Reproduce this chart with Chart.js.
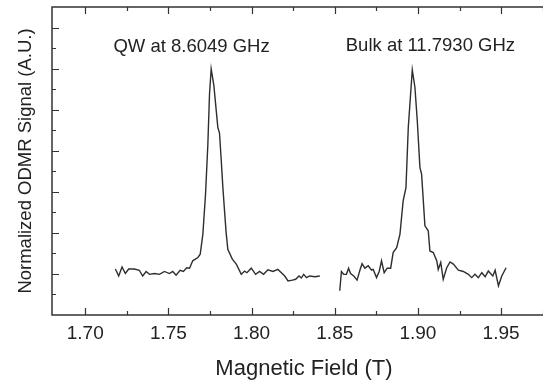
<!DOCTYPE html>
<html>
<head>
<meta charset="utf-8">
<script src="https://cdn.jsdelivr.net/npm/chart.js@4/dist/chart.umd.min.js"></script>
<style>
  html, body { margin: 0; padding: 0; background: #fff; overflow: hidden; }
  canvas { display: block; }
</style>
</head>
<body>
<canvas id="odmrChart" width="556" height="386"></canvas>
<script>
// QW resonance (8.6049 GHz)
const qwField = [1.7181, 1.7201, 1.7221, 1.7241, 1.7261, 1.7295, 1.7325, 1.7345, 1.7366, 1.7386,
  1.7416, 1.7446, 1.7476, 1.7506, 1.7526, 1.7546, 1.7570, 1.7590, 1.7610, 1.7627,
  1.7646, 1.7677, 1.7691, 1.7707, 1.7723, 1.7737, 1.7747, 1.7757, 1.7773, 1.7797,
  1.7807, 1.7817, 1.7827, 1.7837, 1.7847, 1.7857, 1.7884, 1.7908, 1.7938, 1.7958,
  1.7972, 1.7998, 1.8024, 1.8048, 1.8072, 1.8098, 1.8128, 1.8158, 1.8179, 1.8199,
  1.8219, 1.8245, 1.8265, 1.8285, 1.8299, 1.8313, 1.8330, 1.8349, 1.8380, 1.8410];
const qwSignal = [0.12, -0.05, 0.17, 0.01, 0.12, 0.12, 0.09, -0.05, 0.06, -0.01,
  0.01, -0.01, 0.06, 0.01, 0.06, -0.03, 0.09, 0.06, 0.15, 0.14,
  0.32, 0.40, 0.48, 0.97, 1.94, 3.16, 4.38, 4.99, 4.59, 3.57,
  3.43, 2.80, 2.12, 1.55, 1.00, 0.60, 0.36, 0.24, -0.01, 0.07,
  0.03, 0.14, -0.01, 0.06, -0.01, 0.10, 0.06, 0.11, 0.03, -0.05,
  -0.17, -0.15, -0.13, -0.05, -0.10, -0.01, -0.09, -0.05, -0.07, -0.05];

// Bulk resonance (11.7930 GHz)
const bulkField = [1.8530, 1.8540, 1.8554, 1.8570, 1.8583, 1.8595, 1.8614, 1.8634, 1.8651, 1.8664,
  1.8681, 1.8701, 1.8721, 1.8731, 1.8751, 1.8767, 1.8781, 1.8797, 1.8815, 1.8836,
  1.8851, 1.8872, 1.8892, 1.8911, 1.8928, 1.8942, 1.8956, 1.8966, 1.8982, 1.8996,
  1.9012, 1.9022, 1.9042, 1.9062, 1.9072, 1.9092, 1.9113, 1.9122, 1.9137, 1.9152,
  1.9173, 1.9193, 1.9213, 1.9243, 1.9273, 1.9303, 1.9323, 1.9343, 1.9363, 1.9384,
  1.9404, 1.9423, 1.9450, 1.9464, 1.9484, 1.9504, 1.9530];
const bulkSignal = [-0.41, 0.06, -0.01, -0.01, 0.14, 0.01, -0.05, -0.15, 0.09, 0.25,
  0.14, 0.20, 0.09, 0.11, -0.09, 0.06, 0.32, 0.03, 0.14, 0.14,
  0.52, 0.64, 0.97, 1.78, 2.10, 3.57, 4.38, 4.97, 4.54, 3.73,
  2.59, 2.43, 1.17, 1.05, 0.56, 0.52, 0.32, 0.11, 0.28, -0.13,
  0.15, 0.29, 0.24, 0.09, 0.06, -0.01, -0.09, -0.01, -0.09, 0.03,
  -0.07, 0.07, -0.05, 0.09, -0.29, -0.05, 0.15];

const xTickLabels = ['1.70', '1.75', '1.80', '1.85', '1.90', '1.95'];
const yTickValues = [0, 1, 2, 3, 4, 5, 6];
const peakLabels = ['QW at 8.6049 GHz', 'Bulk at 11.7930 GHz'];

const FONT = "'Liberation Sans', Arial, sans-serif";
const INK = '#222';
const LINE = '#2e2e2e';

const toPoints = (xs, ys) => xs.map((x, i) => ({ x: x, y: ys[i] }));

// frame + inward tick marks (major and minor)
const frameTicks = {
  id: 'frameTicks',
  afterDatasetsDraw(chart) {
    const { ctx, chartArea: a, scales: { x, y } } = chart;
    ctx.save();
    ctx.strokeStyle = '#333';
    ctx.lineWidth = 1.5;
    ctx.beginPath();
    ctx.moveTo(a.right, a.top);
    ctx.lineTo(a.left, a.top);
    ctx.lineTo(a.left, a.bottom);
    ctx.lineTo(a.right, a.bottom);
    ctx.stroke();

    ctx.lineWidth = 1.2;
    ctx.beginPath();
    const xStep = 0.05;
    x.ticks.forEach(t => {
      [[t.value, 7], [t.value + xStep / 2, 4], [t.value - xStep / 2, 4]].forEach(([v, len]) => {
        const px = Math.round(x.getPixelForValue(v)) + 0.5;
        if (px <= a.left + 1 || px >= a.right) return;
        ctx.moveTo(px, a.bottom); ctx.lineTo(px, a.bottom - len);
        ctx.moveTo(px, a.top); ctx.lineTo(px, a.top + len);
      });
    });
    y.ticks.forEach(t => {
      [[t.value, 7], [t.value + 0.5, 4], [t.value - 0.5, 4]].forEach(([v, len]) => {
        const py = Math.round(y.getPixelForValue(v)) + 0.5;
        if (py <= a.top + 1 || py >= a.bottom - 1) return;
        ctx.moveTo(a.left, py); ctx.lineTo(a.left + len, py);
      });
    });
    ctx.stroke();
    ctx.restore();
  }
};

// peak captions
const captions = {
  id: 'captions',
  afterDraw(chart, args, opts) {
    const { ctx, scales: { x, y } } = chart;
    ctx.save();
    ctx.fillStyle = INK;
    ctx.font = opts.font;
    ctx.textAlign = 'center';
    ctx.textBaseline = 'middle';
    opts.spots.forEach((s, i) => {
      ctx.fillText(peakLabels[i], x.getPixelForValue(s[0]), y.getPixelForValue(s[1]));
    });
    ctx.restore();
  }
};

new Chart('odmrChart', {
  type: 'line',
  data: {
    datasets: [
      { label: 'QW', data: toPoints(qwField, qwSignal) },
      { label: 'Bulk', data: toPoints(bulkField, bulkSignal) }
    ]
  },
  options: {
    responsive: false,
    animation: false,
    devicePixelRatio: 1,
    layout: { padding: { top: 7, left: 0, right: 0, bottom: 0 } },
    elements: {
      line: { borderColor: LINE, borderWidth: 1.4, tension: 0, fill: false },
      point: { radius: 0 }
    },
    plugins: {
      legend: { display: false },
      tooltip: { enabled: false },
      captions: {
        font: '18.5px ' + FONT,
        spots: [[1.7639, 5.52], [1.9075, 5.55]]
      }
    },
    scales: {
      x: {
        type: 'linear',
        min: 1.68,
        max: 1.983,
        afterBuildTicks: s => { s.ticks = xTickLabels.map(l => ({ value: parseFloat(l) })); },
        afterFit: s => { s.height = 71; },
        grid: { display: false, drawTicks: false },
        border: { display: false },
        ticks: {
          padding: 7,
          color: INK,
          font: { family: FONT, size: 19 },
          callback: v => v.toFixed(2)
        },
        title: {
          display: true,
          text: 'Magnetic Field (T)',
          color: INK,
          font: { family: FONT, size: 22 },
          padding: { top: 0, bottom: 4 }
        }
      },
      y: {
        type: 'linear',
        min: -1,
        max: 6.5,
        afterBuildTicks: s => { s.ticks = yTickValues.map(v => ({ value: v })); },
        afterFit: s => { s.width = 52; },
        grid: { display: false, drawTicks: false },
        border: { display: false },
        ticks: { display: false },
        title: {
          display: true,
          text: 'Normalized ODMR Signal (A.U.)',
          color: INK,
          font: { family: FONT, size: 18.5 },
          padding: { top: 14.5, bottom: 0 }
        }
      }
    }
  },
  plugins: [frameTicks, captions]
});
</script>
</body>
</html>
